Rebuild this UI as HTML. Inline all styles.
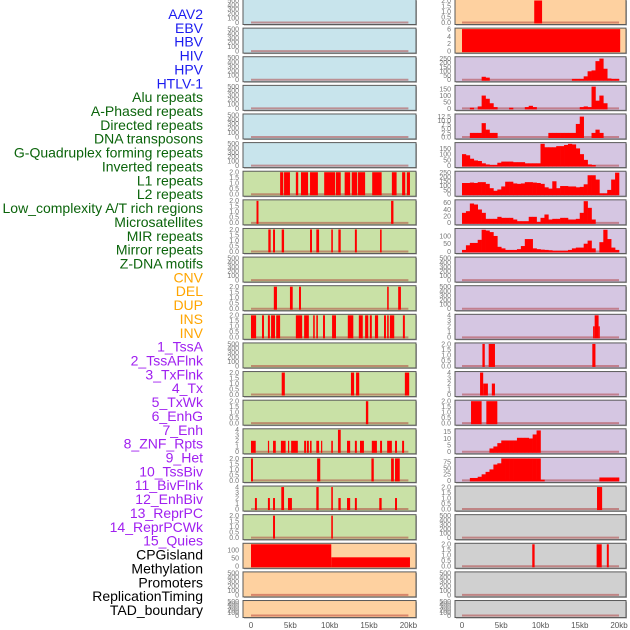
<!DOCTYPE html>
<html><head><meta charset="utf-8">
<style>
html,body{margin:0;padding:0;background:#fff;}
svg{display:block;}
.lab{font-family:"Liberation Sans",sans-serif;font-size:14px;}
.tk{font-family:"Liberation Sans",sans-serif;font-size:7px;fill:#777;}
.xt{font-family:"Liberation Sans",sans-serif;font-size:8px;fill:#555;}
</style></head>
<body>
<svg id="chart" width="630" height="630" viewBox="0 0 630 630" xmlns="http://www.w3.org/2000/svg">
<g id="labels"></g>
<g id="panels"></g>
<g id="xaxis"></g>
</svg>
<script>
// ---- track labels ----
const labelNames = ["AAV2","EBV","HBV","HIV","HPV","HTLV-1","Alu repeats","A-Phased repeats","Directed repeats","DNA transposons","G-Quadruplex forming repeats","Inverted repeats","L1 repeats","L2 repeats","Low_complexity A/T rich regions","Microsatellites","MIR repeats","Mirror repeats","Z-DNA motifs","CNV","DEL","DUP","INS","INV","1_TssA","2_TssAFlnk","3_TxFlnk","4_Tx","5_TxWk","6_EnhG","7_Enh","8_ZNF_Rpts","9_Het","10_TssBiv","11_BivFlnk","12_EnhBiv","13_ReprPC","14_ReprPCWk","15_Quies","CPGisland","Methylation","Promoters","ReplicationTiming","TAD_boundary"];
const labelGroups = [6,13,5,15,5];
const groupColors = ["#1c1cf0","#0b640b","#ffa500","#a020f0","#000000"];

// ---- x axis ----
const xTickKb = [0,5,10,15,20];
const xTickLabels = ["0","5kb","10kb","15kb","20kb"];

// ---- y tick sets ----
const ticksEmpty = [0,100,200,300,400,500];
const ticks2 = [0,0.5,1,1.5,2];
const ticks4 = [0,1,2,3,4];
const ticksMeth = [0,50,100];
const ticks6 = [0,2,4,6];
const ticks250 = [0,50,100,150,200,250];
const ticks150 = [0,50,100,150];
const ticks12 = [0,2.5,5,7.5,10,12.5];
const ticks60 = [0,20,40,60];
const ticks100 = [0,50,100];
const ticks15 = [0,5,10,15];
const ticks75 = [0,25,50,75];

// ---- interval tracks: [startKb, endKb, value] ----
const L1rep = [[3.7,4.1,2],[4.2,4.95,2],[5.7,6.0,2],[6.35,7.25,2],[7.5,8.5,2],[9.3,10.7,2],[10.8,11.4,2],[11.9,12.6,2],[12.8,13.5,2],[13.6,14.5,2],[15.4,16.6,2],[17.9,18.5,2],[19.2,19.6,2],[19.8,20.2,2]];
const L2rep = [[0.7,0.95,2],[17.8,18.1,2]];
const lowComplex = [[2.2,2.5,2],[2.8,3.05,2],[3.9,4.2,2],[7.5,7.75,2],[8.3,8.65,2],[10.2,10.4,2],[11.1,11.4,2],[13.2,13.45,2],[16.4,16.6,2]];
const mirRep = [[2.9,3.3,2],[4.95,5.3,2],[6.1,6.35,2],[17.3,17.5,2],[18.7,19.05,2]];
const mirrorRep = [[0,0.65,2],[1.4,1.65,2],[2.15,2.4,2],[2.55,3.05,2],[3.2,3.7,2],[5.7,6.5,2],[6.75,7.35,2],[7.9,8.1,2],[8.3,8.5,2],[9.15,9.4,2],[10.3,10.8,2],[12.3,13.0,2],[13.7,14.2,2],[14.5,14.9,2],[15.1,15.35,2],[15.75,16.15,2],[16.9,17.15,2],[17.3,17.5,2],[17.65,18.2,2],[19.3,19.55,2]];
const cnv = [[3.9,4.3,2],[12.7,13.1,2],[13.35,13.75,2],[19.55,20.1,2]];
const delT = [[14.6,14.9,2]];
const dupT = [[0,0.6,2],[2.15,2.3,2],[2.8,3.15,2],[3.8,4.4,2],[4.7,4.85,2],[5.1,5.95,2],[6.75,7.0,2],[7.1,7.35,2],[7.5,7.7,2],[8.3,8.65,2],[8.9,9.05,2],[10.2,10.4,2],[11.05,11.4,4],[12.2,12.6,2],[13.2,13.45,2],[13.85,14.35,2],[15.35,16.0,2],[16.4,16.65,2],[17.3,17.9,2],[18.3,18.55,2],[19.2,19.45,2]];
const insT = [[0,0.25,2],[8.4,8.8,2],[15.3,15.6,2],[17.8,18.15,2],[18.3,18.9,2]];
const invT = [[0.5,0.75,2],[2.15,2.4,2],[2.8,3.05,2],[3.85,4.2,4],[4.7,5.2,2],[8.3,8.6,4],[10.2,10.4,4],[11.1,11.4,2],[12.2,12.6,2],[13.2,13.45,2],[16.3,16.6,2],[18.3,18.55,2]];
const tssA = [[2.8,3.05,2],[10.2,10.4,2]];
const tssAFlnk = [[0,10.2,140],[10.2,20.2,55]];
const txWk = [[9.2,10.2,2]];
const enhG = [[0,20.15,6]];
const znf = [[16.7,16.9,2],[16.9,17.4,4],[17.4,17.55,2]];
const het = [[2.6,2.9,2],[3.4,4.2,2],[16.6,17.0,2]];
const tssBiv = [[2.3,2.7,4],[2.7,3.3,2],[3.8,4.2,2]];
const bivFlnk = [[1.15,2.5,2],[3.1,4.5,2]];
const promoters = [[17.2,17.85,2]];
const tadB = [[8.95,9.25,2],[17.15,17.8,2],[18.45,18.7,2]];

// ---- binned tracks (0.5 kb bins, 0..20 kb) ----
const enh = [0,0,0,0,0,35,25,0,0,0,0,0,0,0,0,0,0,0,0,0,0,0,0,0,0,0,0,0,10,10,10,40,100,110,220,250,130,15,10,10];
const znfRpts = [0,0,5,0,15,100,75,40,10,0,0,0,5,0,0,0,10,20,10,0,0,0,0,0,0,0,0,0,0,0,10,15,10,170,60,100,40,0,0,0];
const hetBins = [0,0,2.5,2.5,2.5,8.5,4.5,2.5,2.5,0,0,0,0,0,0,0,0,0,0,0,0,0,2.5,2.5,2.5,2.5,2.5,2.5,2.5,8,12.5,0,0,2.5,4.5,2.5,0,0,0,0];
const reprPC = [100,90,60,45,40,20,10,5,5,25,35,35,35,30,30,30,20,20,20,20,190,160,160,160,170,170,180,190,185,150,100,50,10,5,0,0,0,0,0,0];
const reprPCWk = [130,130,135,130,140,140,120,70,40,55,90,145,145,125,120,125,140,140,135,130,120,80,65,150,70,95,95,90,90,80,85,115,220,220,170,10,10,50,170,250];
const quies = [30,35,58,55,40,30,12,12,12,18,15,15,15,10,5,5,5,18,18,3,15,25,10,12,12,15,15,10,10,12,30,65,45,10,0,0,0,0,0,0];
const cpgIsland = [10,40,55,55,75,140,135,125,100,30,20,10,10,10,15,35,80,80,20,15,12,10,8,5,5,5,5,10,20,25,25,50,70,20,0,60,140,80,25,10];
const methylation = [0,0,0,0,0,0,0,2.5,4,6.5,8.5,8.5,8.5,8.5,10.5,10.5,10.5,10,13,16,0,0,0,0,0,0,0,0,0,0,0,0,0,0,0,0,0,0,0,0];
const promBins = [0,0,10,10,15,25,35,45,65,70,90,90,90,90,90,90,90,90,90,90,3,0,0,0,0,0,0,0,0,0,0,0,0,0,0,12,12,12,12,12];

const C_BLUE="#c8e4ec", C_GREEN="#c9e1a6", C_PEACH="#fed1a0", C_LAV="#d5c6e2", C_GRAY="#d0d0d0";

const leftTracks = [
 ["aav2",C_BLUE,ticksEmpty,500,"none",null],
 ["ebv",C_BLUE,ticksEmpty,500,"none",null],
 ["hbv",C_BLUE,ticksEmpty,500,"none",null],
 ["hiv",C_BLUE,ticksEmpty,500,"none",null],
 ["hpv",C_BLUE,ticksEmpty,500,"none",null],
 ["htlv-1",C_BLUE,ticksEmpty,500,"none",null],
 ["alu-repeats",C_GREEN,ticks2,2,"iv",L1rep],
 ["a-phased-repeats",C_GREEN,ticks2,2,"iv",L2rep],
 ["directed-repeats",C_GREEN,ticks2,2,"iv",lowComplex],
 ["dna-transposons",C_GREEN,ticksEmpty,500,"none",null],
 ["g-quadruplex",C_GREEN,ticks2,2,"iv",mirRep],
 ["inverted-repeats",C_GREEN,ticks2,2,"iv",mirrorRep],
 ["l1-repeats",C_GREEN,ticksEmpty,500,"none",null],
 ["l2-repeats",C_GREEN,ticks2,2,"iv",cnv],
 ["low-complexity",C_GREEN,ticks2,2,"iv",delT],
 ["microsatellites",C_GREEN,ticks4,4,"iv",dupT],
 ["mir-repeats",C_GREEN,ticks2,2,"iv",insT],
 ["mirror-repeats",C_GREEN,ticks4,4,"iv",invT],
 ["z-dna-motifs",C_GREEN,ticks2,2,"iv",tssA],
 ["cnv",C_PEACH,ticksMeth,135,"iv",tssAFlnk],
 ["del",C_PEACH,ticksEmpty,500,"none",null],
 ["dup",C_PEACH,ticksEmpty,500,"none",null]
];
const rightTracks = [
 ["ins",C_PEACH,ticks2,2,"iv",txWk],
 ["inv",C_PEACH,ticks6,6,"iv",enhG],
 ["1-tssa",C_LAV,ticks250,260,"bin",enh],
 ["2-tssaflnk",C_LAV,ticks150,172,"bin",znfRpts],
 ["3-txflnk",C_LAV,ticks12,13.5,"bin",hetBins],
 ["4-tx",C_LAV,ticks150,192,"bin",reprPC],
 ["5-txwk",C_LAV,ticks250,255,"bin",reprPCWk],
 ["6-enhg",C_LAV,ticks60,66,"bin",quies],
 ["7-enh",C_LAV,ticks100,142,"bin",cpgIsland],
 ["8-znf-rpts",C_LAV,ticksEmpty,500,"none",null],
 ["9-het",C_LAV,ticksEmpty,500,"none",null],
 ["10-tssbiv",C_LAV,ticks4,4,"iv",znf],
 ["11-bivflnk",C_LAV,ticks2,2,"iv",het],
 ["12-enhbiv",C_LAV,ticks4,4,"iv",tssBiv],
 ["13-reprpc",C_LAV,ticks2,2,"iv",bivFlnk],
 ["14-reprpcwk",C_LAV,ticks15,16.5,"bin",methylation],
 ["15-quies",C_LAV,ticks75,90,"bin",promBins],
 ["cpgisland",C_GRAY,ticks2,2,"iv",promoters],
 ["methylation",C_GRAY,ticksEmpty,500,"none",null],
 ["promoters",C_GRAY,ticks2,2,"iv",tadB],
 ["replicationtiming",C_GRAY,ticksEmpty,500,"none",null],
 ["tad-boundary",C_GRAY,ticksEmpty,500,"none",null]
];

const NS="http://www.w3.org/2000/svg";
function mk(tag,attrs,parent){const e=document.createElementNS(NS,tag);for(const k in attrs)e.setAttribute(k,attrs[k]);parent.appendChild(e);return e;}
function xScale(col,kb){return col===0 ? 251+kb*7.87 : 462+kb*7.85;}
const boxL=[243,455], boxR=[416,626];
function rowTop(i){return i*28.62-0.5;}
function rowH(i){return i===21?17:25;}

const lg=document.getElementById("labels");
let gi=0,cnt=0;
labelNames.forEach((n,i)=>{
  while(cnt>=labelGroups[gi]){gi++;cnt=0;}
  cnt++;
  const t=mk("text",{x:203,y:19+i*13.86,"text-anchor":"end","class":"lab",fill:groupColors[gi]},lg);
  t.textContent=n;
  
  
});

const pg=document.getElementById("panels");
function drawPanel(col,i,tr){
  const [name,bg,ticks,yMax,kind,data]=tr;
  const top=rowTop(i),h=rowH(i);
  const g=mk("g",{},pg);
  
  
  const x0=boxL[col],x1=boxR[col];
  mk("rect",{x:x0+1,y:top+1,width:x1-x0,height:h,fill:"#aaa"},g);
  const bgR=mk("rect",{x:x0,y:top,width:x1-x0,height:h,fill:bg},g);
  
  
  const yb=top+h-2, yt=top+1;
  const ys=v=>yb-(Math.min(v,yMax)/yMax)*(yb-yt);
  mk("line",{x1:xScale(col,0),x2:xScale(col,20),y1:yb,y2:yb,stroke:"rgba(170,40,40,0.45)","stroke-width":2},g);
  if(kind==="iv"){
    data.forEach(d=>{
      const r=mk("rect",{x:xScale(col,d[0]),y:ys(d[2]),width:Math.max(1.2,xScale(col,d[1])-xScale(col,d[0])),height:yb-ys(d[2])+1,fill:"#ff0000"},g);
      
      
    });
  } else if(kind==="bin"){
    data.forEach((v,k)=>{
      if(v<=0)return;
      const r=mk("rect",{x:xScale(col,k*0.5),y:ys(v),width:xScale(col,k*0.5+0.5)-xScale(col,k*0.5)+0.3,height:yb-ys(v)+1,fill:"#ff0000"},g);
      
      
    });
  }
  mk("rect",{x:x0,y:top,width:x1-x0,height:h,fill:"none",stroke:"#5a5a5a","stroke-width":1},g);
  ticks.forEach(tv=>{
    const t=mk("text",{x:x0-4,y:ys(tv)+2.4,"text-anchor":"end","class":"tk"},g);
    t.textContent=(ticks===ticks2||ticks===ticks12)?tv.toFixed(1):String(tv);
    
    
  });
}
leftTracks.forEach((tr,i)=>drawPanel(0,i,tr));
rightTracks.forEach((tr,i)=>drawPanel(1,i,tr));

const xg=document.getElementById("xaxis");
[0,1].forEach(col=>{
  xTickKb.forEach((kb,j)=>{
    const t=mk("text",{x:xScale(col,kb),y:628,"text-anchor":"middle","class":"xt"},xg);
    t.textContent=xTickLabels[j];
    
    
  });
});
</script>
</body></html>
